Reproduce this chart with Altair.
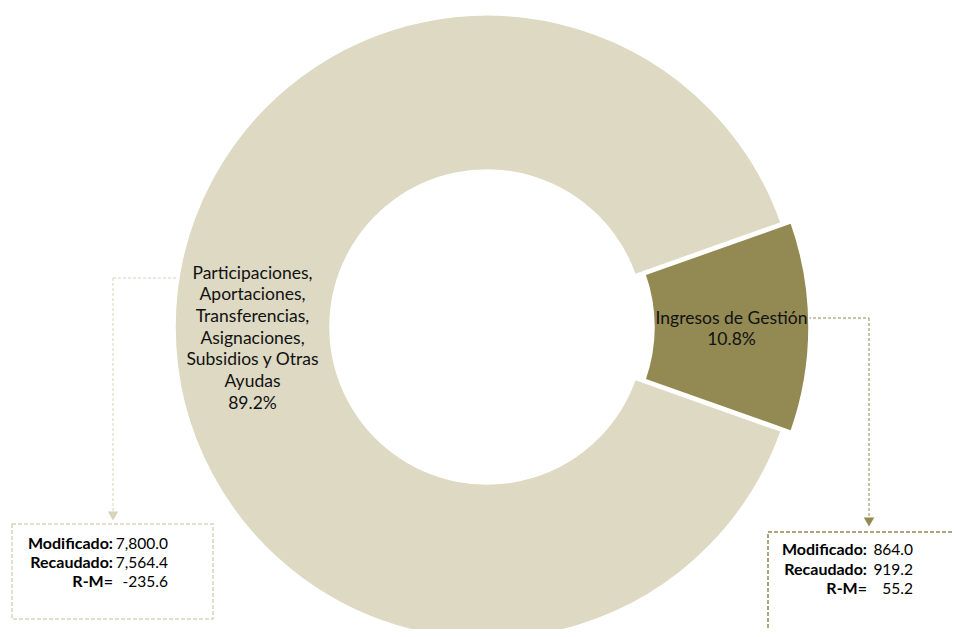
import math
import altair as alt
import pandas as pd

# ---- data ----
categories = ["Ingresos de Gestión",
              "Participaciones, Aportaciones, Transferencias, Asignaciones, Subsidios y Otras Ayudas"]
label_lines = ["Ingresos de Gestión",
               "Participaciones,\nAportaciones,\nTransferencias,\nAsignaciones,\nSubsidios y Otras\nAyudas"]
modificado = [864.0, 7800.0]
recaudado = [919.2, 7564.4]
slice_order = [0, 1]
colors = ["#938953", "#DDD9C3"]
callout_colors = ["#938953", "#D8D3BA"]

df = pd.DataFrame({
    "category": categories,
    "lines": label_lines,
    "modificado": modificado,
    "recaudado": recaudado,
    "order": slice_order,
})

# rotate so the small slice is centred on the east side
small_frac = recaudado[0] / sum(recaudado)
a0 = math.pi / 2 - small_frac * math.pi
theta_scale = alt.Scale(domain=[0, 1], range=[a0, a0 + 2 * math.pi])
color_scale = alt.Scale(domain=categories, range=colors)

CX, CY = 479, 319
INNER, OUTER = 157, 312
EXPLODE = 10

base = (
    alt.Chart(df)
    .transform_joinaggregate(total="sum(recaudado)")
    .transform_window(cum="sum(recaudado)", sort=[alt.SortField("order")])
    .transform_calculate(
        start="(datum.cum - datum.recaudado) / datum.total",
        end="datum.cum / datum.total",
        mid="(datum.cum - datum.recaudado / 2) / datum.total",
        label="datum.lines + '\\n' + format(datum.recaudado / datum.total * 100, '.1f') + '%'",
        diff="datum.recaudado - datum.modificado",
    )
    .transform_calculate(
        vals="format(datum.modificado, ',.1f') + '\\n' + format(datum.recaudado, ',.1f') + '\\n' + (datum.diff < 0 ? '-' : '') + format(abs(datum.diff), ',.1f')",
    )
)


def sel(i):
    return base.transform_filter(alt.datum.category == categories[i])


def arc_layer(i, cx):
    return sel(i).mark_arc(innerRadius=INNER, outerRadius=OUTER, stroke="white", strokeWidth=1.5).encode(
        theta=alt.Theta("start:Q", scale=theta_scale, stack=False),
        theta2="end:Q",
        color=alt.Color("category:N", scale=color_scale, legend=None),
        x=alt.value(cx),
        y=alt.value(CY),
    )


def label_layer(i, cx, dy):
    return sel(i).mark_text(
        font="Lato", fontSize=17.5, lineBreak="\n", lineHeight=21.7,
        align="center", baseline="middle", color="#111111", dy=dy,
    ).encode(
        theta=alt.Theta("mid:Q", scale=theta_scale, stack=False),
        radius=alt.value((INNER + OUTER) / 2),
        text="label:N",
        x=alt.value(cx),
        y=alt.value(CY),
    )


def callout(i, hx1, hx2, hy, vx, vy2, box, lab_x, val_x, text_y):
    col = callout_colors[i]
    s = sel(i)
    h = s.mark_rule(color=col, strokeWidth=1, strokeDash=[3, 2]).encode(
        x=alt.value(hx1), x2=alt.value(hx2), y=alt.value(hy), y2=alt.value(hy))
    v = s.mark_rule(color=col, strokeWidth=1, strokeDash=[3, 2]).encode(
        x=alt.value(vx), x2=alt.value(vx), y=alt.value(hy), y2=alt.value(vy2))
    tri = s.mark_point(shape="triangle-down", filled=True, opacity=1, color=col, size=110).encode(
        x=alt.value(vx), y=alt.value(vy2 + 2))
    rect = s.mark_rect(fillOpacity=0, stroke=col, strokeWidth=1.5, strokeDash=[4, 2]).encode(
        x=alt.value(box[0]), x2=alt.value(box[1]), y=alt.value(box[2]), y2=alt.value(box[3]))
    labs = s.mark_text(font="Lato", fontSize=16, fontWeight="bold", lineBreak="\n", lineHeight=19.3,
                       align="right", baseline="middle", color="#000000").encode(
        text=alt.value("Modificado:\nRecaudado:\nR-M=\u00a0\u00a0\u00a0"),
        x=alt.value(lab_x), y=alt.value(text_y))
    vals = s.mark_text(font="Lato", fontSize=15.5, lineBreak="\n", lineHeight=19.3,
                       align="right", baseline="middle", color="#000000").encode(
        text="vals:N", x=alt.value(val_x), y=alt.value(text_y))
    return [h, v, tri, rect, labs, vals]


left = callout(1, 105, 200, 270, 105, 506, (4, 205, 516, 611), 105, 160, 535.7)
right = callout(0, 780, 861, 310, 861, 512, (760, 980, 524, 625), 859, 905, 542.3)

chart = alt.layer(
    *left, *right,
    arc_layer(1, CX),
    arc_layer(0, CX + EXPLODE),
    label_layer(1, CX, -53.3),
    label_layer(0, CX + EXPLODE, -8.2),
).properties(
    width=946, height=621, padding=0,
    autosize=alt.AutoSizeParams(type="none"),
    background="white",
).configure_view(strokeWidth=0)

chart.save("out.html", embed_options={"renderer": "svg", "actions": False})
